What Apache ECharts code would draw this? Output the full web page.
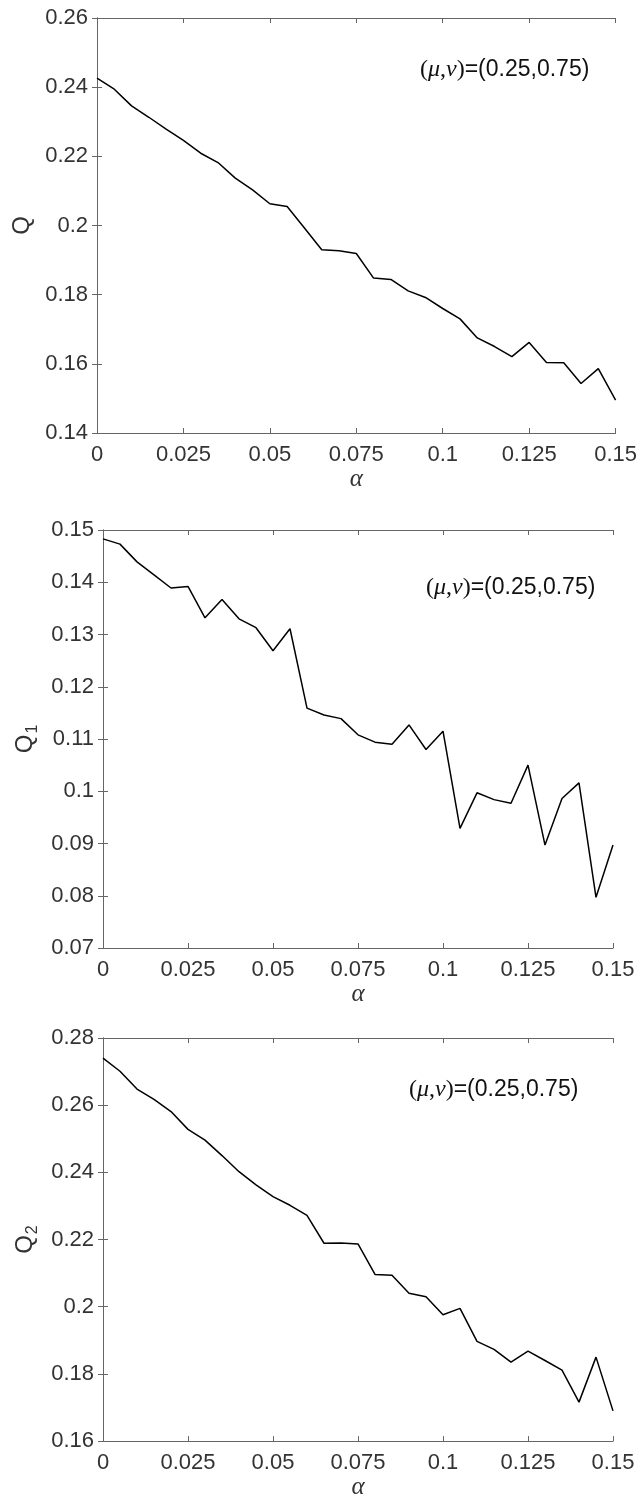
<!DOCTYPE html>
<html>
<head>
<meta charset="utf-8">
<script src="https://cdn.jsdelivr.net/npm/echarts@6/dist/echarts.min.js"></script>
<style>
  html, body { margin: 0; padding: 0; background: #fff; }
  #chart { width: 640px; height: 1501px; }
</style>
</head>
<body>
<div id="chart"></div>
<script>
// alpha grid, step 0.005
const alpha = [0, 0.005, 0.01, 0.015, 0.02, 0.025, 0.03, 0.035, 0.04, 0.045,
  0.05, 0.055, 0.06, 0.065, 0.07, 0.075, 0.08, 0.085, 0.09, 0.095,
  0.1, 0.105, 0.11, 0.115, 0.12, 0.125, 0.13, 0.135, 0.14, 0.145, 0.15]

const qValues = [0.2426, 0.2394, 0.2346, 0.2313, 0.2279, 0.2246, 0.2209, 0.2182, 0.2137, 0.2103,
  0.2063, 0.2055, 0.1993, 0.1930, 0.1927, 0.1919, 0.1848, 0.1844, 0.1811, 0.1792,
  0.1760, 0.1730, 0.1675, 0.1650, 0.1621, 0.1662, 0.1604, 0.1603, 0.1543, 0.1586, 0.1495]

const q1Values = [0.1483, 0.1473, 0.1439, 0.1414, 0.1389, 0.1392, 0.1332, 0.1367, 0.1330, 0.1313,
  0.1269, 0.1311, 0.1159, 0.1146, 0.1139, 0.1108, 0.1094, 0.1090, 0.1127, 0.1080,
  0.1115, 0.0929, 0.0997, 0.0984, 0.0977, 0.1050, 0.0897, 0.0986, 0.1016, 0.0797, 0.0897]

const q2Values = [0.2740, 0.2701, 0.2648, 0.2617, 0.2581, 0.2528, 0.2496, 0.2450, 0.2402, 0.2363,
  0.2328, 0.2302, 0.2272, 0.2189, 0.2190, 0.2187, 0.2096, 0.2094, 0.2040, 0.2030,
  0.1976, 0.1995, 0.1897, 0.1873, 0.1835, 0.1868, 0.1840, 0.1811, 0.1716, 0.1850, 0.1690]

const xRange = { min: 0, max: 0.15, interval: 0.025 }
const yRanges = [
  { min: 0.14, max: 0.26, interval: 0.02 },
  { min: 0.07, max: 0.15, interval: 0.01 },
  { min: 0.16, max: 0.28, interval: 0.02 }
]
const yNames = ['{q|Q}', '{q|Q}{s|1}', '{q|Q}{s|2}']
const noteText = '{p|(}{i|\u03bc}{p|,}{i|\u03bd}{p|)}{n|=(0.25,0.75)}'

// layout of the three stacked panels
const panels = [
  { values: qValues, grid: { left: 97, top: 18, width: 522, height: 415 }, nameGap: 58, note: [420, 58] },
  { values: q1Values, grid: { left: 103, top: 530, width: 510, height: 418 }, nameGap: 62, note: [426, 576] },
  { values: q2Values, grid: { left: 103, top: 1038, width: 510, height: 413 }, nameGap: 62, note: [409, 1078] }
]

const axisColor = '#666'
const textColor = '#333'
const sans = 'Liberation Sans, Arial, sans-serif'
const serif = 'Liberation Serif, Times New Roman, serif'

function boxAxis(extra) {
  return Object.assign({
    type: 'value',
    axisLine: { show: true, lineStyle: { color: axisColor, width: 1 } },
    axisTick: { show: true, inside: true, length: 5, lineStyle: { color: axisColor } },
    splitLine: { show: false },
    axisLabel: { show: false }
  }, extra)
}

const option = {
  animation: false,
  backgroundColor: '#fff',
  grid: panels.map(p => p.grid),
  xAxis: [],
  yAxis: [],
  series: [],
  graphic: []
}

panels.forEach((p, i) => {
  option.xAxis.push(boxAxis(Object.assign({
    gridIndex: i,
    position: 'bottom',
    axisLabel: { show: true, color: textColor, fontSize: 22, fontFamily: sans, margin: 11 },
    name: '\u03b1',
    nameLocation: 'middle',
    nameGap: 30,
    nameTextStyle: { color: textColor, fontFamily: serif, fontStyle: 'italic', fontSize: 25 }
  }, xRange)))
  option.xAxis.push(boxAxis(Object.assign({ gridIndex: i, position: 'top' }, xRange)))

  option.yAxis.push(boxAxis(Object.assign({
    gridIndex: i,
    position: 'left',
    axisLabel: { show: true, color: textColor, fontSize: 22, fontFamily: sans, margin: 9 },
    name: yNames[i],
    nameLocation: 'middle',
    nameRotate: 90,
    nameGap: p.nameGap,
    nameTextStyle: {
      color: textColor,
      rich: {
        q: { fontSize: 24, fontFamily: sans, color: textColor },
        s: { fontSize: 16, fontFamily: sans, color: textColor, padding: [14, 0, 0, 1] }
      }
    }
  }, yRanges[i])))
  option.yAxis.push(boxAxis(Object.assign({ gridIndex: i, position: 'right' }, yRanges[i])))

  option.series.push({
    type: 'line',
    xAxisIndex: i * 2,
    yAxisIndex: i * 2,
    data: alpha.map((a, j) => [a, p.values[j]]),
    showSymbol: false,
    silent: true,
    lineStyle: { color: '#000', width: 1.5 }
  })

  // (mu, nu) annotation inside each panel
  option.graphic.push({
    type: 'text',
    left: p.note[0],
    top: p.note[1],
    silent: true,
    style: {
      text: noteText,
      rich: {
        p: { fontSize: 24, fontFamily: serif, fill: '#111' },
        i: { fontSize: 24, fontFamily: serif, fontStyle: 'italic', fill: '#111' },
        n: { fontSize: 23, fontFamily: sans, fill: '#111' }
      }
    }
  })
})

const chart = echarts.init(document.getElementById('chart'))
chart.setOption(option)
</script>
</body>
</html>
